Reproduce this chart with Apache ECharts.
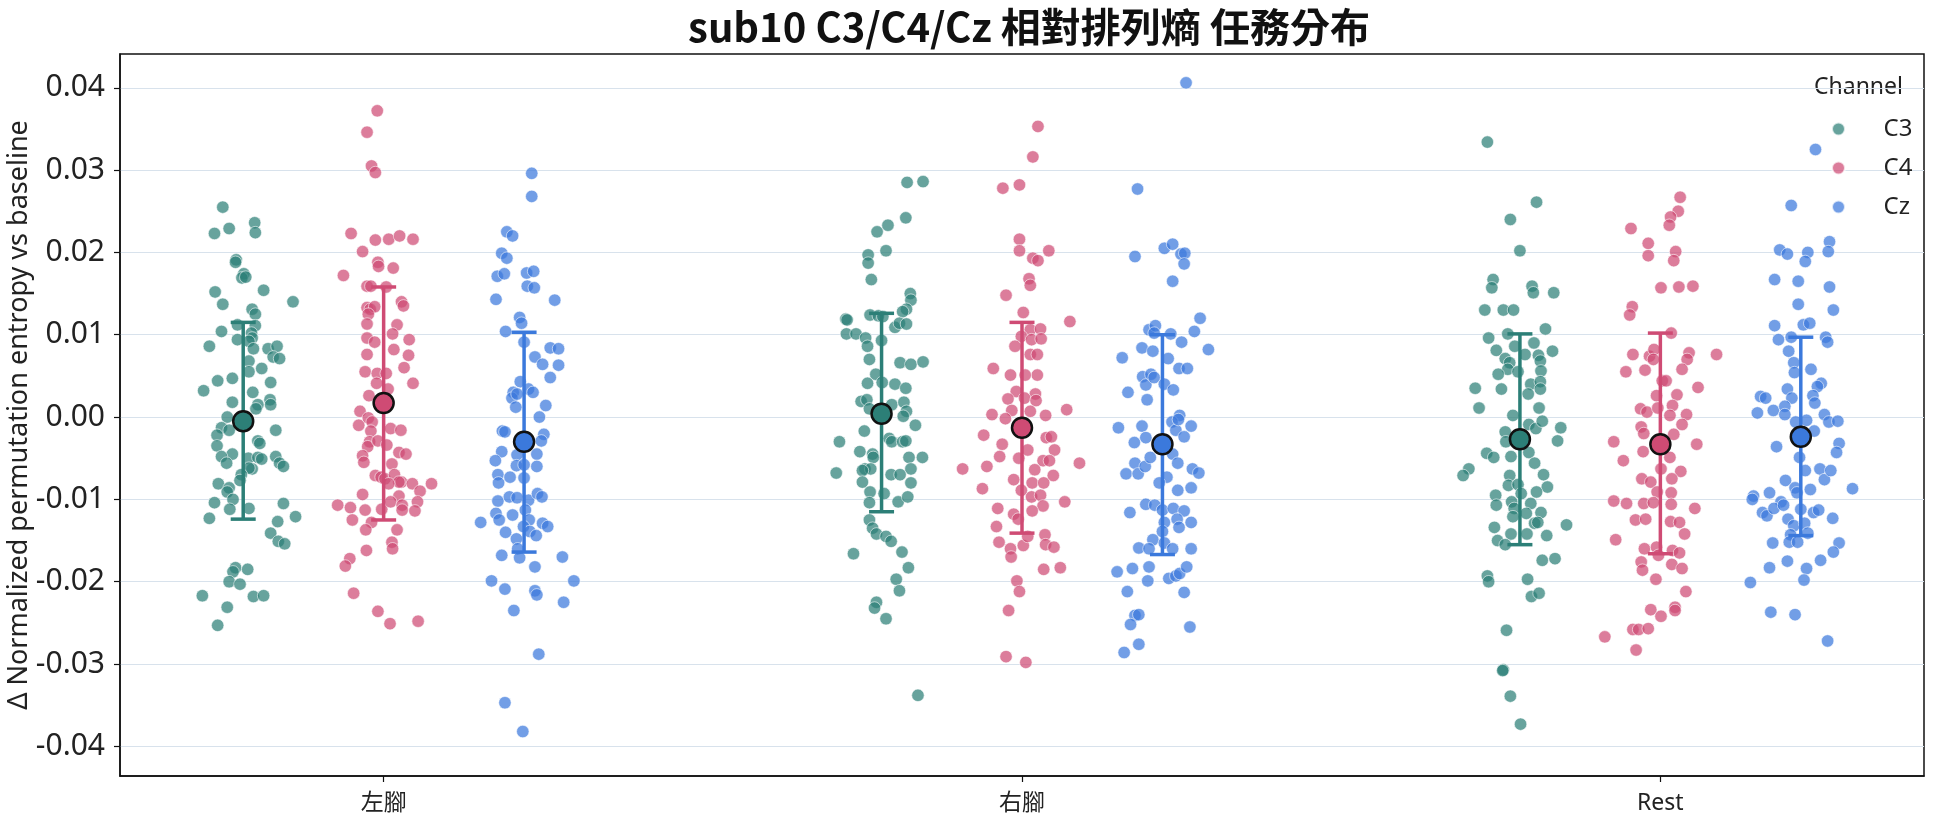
<!DOCTYPE html>
<html>
<head>
<meta charset="utf-8">
<script src="https://cdn.jsdelivr.net/npm/echarts@6/dist/echarts.min.js"></script>
<style>
  html, body { margin: 0; padding: 0; background: #fff; }
  #chart { width: 1944px; height: 827px; }
</style>
</head>
<body>
<div id="chart"></div>
<script>
// categories / channels
const categories = ['左腳', '右腳', 'Rest'];
const channels = ['C3', 'C4', 'Cz'];

// per-trial values, plus the strip jitter (category units)
const c3Left = [0.0255,0.0223,0.0229,0.0236,0.0224,0.0191,0.0188,0.0174,0.0169,0.0170,
  0.0152,0.0154,0.0140,0.0137,0.0131,0.0125,0.0112,0.0111,0.0104,0.0102,
  0.0096,0.0094,0.0092,0.0086,0.0083,0.0083,0.0086,0.0073,0.0071,0.0068,
  0.0055,0.0059,0.0044,0.0047,0.0042,0.0032,0.0030,0.0018,0.0015,0.0010,
  0.0021,0.0015,0.0000,-0.0013,-0.0016,-0.0022,-0.0035,-0.0016,-0.0029,-0.0032,
  -0.0045,-0.0048,-0.0056,-0.0050,-0.0049,-0.0051,-0.0063,-0.0062,-0.0048,-0.0056,
  -0.0060,-0.0070,-0.0077,-0.0081,-0.0086,-0.0091,-0.0100,-0.0104,-0.0112,-0.0111,
  -0.0123,-0.0105,-0.0127,-0.0121,-0.0141,-0.0151,-0.0154,-0.0183,-0.0185,-0.0188,
  -0.0200,-0.0203,-0.0217,-0.0218,-0.0217,-0.0231,-0.0253];
const c3LeftJit = [-0.032,-0.045,-0.022,0.018,0.019,-0.011,-0.012,0.001,-0.002,0.004,
  -0.044,0.032,0.078,-0.032,0.014,0.019,-0.009,0.019,-0.034,0.013,
  0.014,-0.009,0.009,-0.053,0.016,0.039,0.053,0.047,0.057,0.009,
  0.009,0.029,-0.040,-0.017,0.043,-0.062,0.015,-0.017,0.023,0.020,
  0.042,0.043,-0.025,-0.034,-0.022,-0.041,-0.041,0.051,0.023,0.026,
  -0.017,-0.034,-0.026,0.008,0.023,0.029,0.014,0.009,0.051,0.057,
  0.063,-0.003,-0.005,-0.039,-0.022,-0.025,-0.016,-0.045,-0.021,0.009,
  -0.053,0.063,0.054,0.082,0.043,0.055,0.065,-0.012,0.007,-0.016,
  -0.022,-0.005,-0.064,0.016,0.032,-0.025,-0.040];

const c4Left = [0.0372,0.0346,0.0305,0.0297,0.0223,0.0215,0.0216,0.0220,0.0216,0.0201,
  0.0188,0.0183,0.0181,0.0172,0.0159,0.0159,0.0158,0.0140,0.0135,0.0133,
  0.0131,0.0134,0.0125,0.0113,0.0112,0.0101,0.0096,0.0091,0.0094,0.0076,
  0.0082,0.0075,0.0060,0.0055,0.0053,0.0053,0.0041,0.0041,0.0034,0.0026,
  0.0007,-0.0010,-0.0001,-0.0006,-0.0014,-0.0016,-0.0017,-0.0030,-0.0036,-0.0029,
  -0.0034,-0.0047,-0.0055,-0.0043,-0.0045,-0.0057,-0.0071,-0.0073,-0.0075,-0.0070,
  -0.0079,-0.0079,-0.0081,-0.0081,-0.0090,-0.0081,-0.0094,-0.0096,-0.0107,-0.0110,
  -0.0113,-0.0112,-0.0103,-0.0107,-0.0113,-0.0103,-0.0114,-0.0125,-0.0128,-0.0137,
  -0.0137,-0.0152,-0.0160,-0.0162,-0.0172,-0.0181,-0.0214,-0.0236,-0.0251,-0.0248];
const c4LeftJit = [-0.010,-0.026,-0.019,-0.013,-0.051,-0.013,0.008,0.025,0.046,-0.033,
  -0.009,-0.008,0.015,-0.063,-0.026,-0.020,0.004,0.028,0.031,-0.026,
  -0.021,-0.014,-0.024,-0.026,0.021,0.014,-0.026,-0.014,0.040,-0.026,
  0.016,0.039,0.032,-0.029,-0.010,0.004,0.046,-0.011,0.007,-0.023,
  -0.037,-0.039,-0.024,-0.018,0.011,0.027,-0.020,-0.022,-0.025,-0.009,
  0.005,-0.033,-0.031,0.024,0.035,0.013,-0.013,-0.004,0.002,0.017,
  0.028,0.024,0.008,0.045,0.057,0.075,-0.033,0.024,-0.072,-0.052,
  -0.029,-0.003,0.011,0.029,0.029,0.053,0.049,-0.049,-0.019,-0.028,
  0.021,0.013,0.014,-0.027,-0.053,-0.060,-0.047,-0.009,0.010,0.054];

const czLeft = [0.0296,0.0268,0.0225,0.0220,0.0199,0.0193,0.0171,0.0174,0.0175,0.0177,
  0.0159,0.0157,0.0143,0.0142,0.0121,0.0114,0.0104,0.0091,0.0073,0.0084,
  0.0083,0.0064,0.0063,0.0048,0.0043,0.0030,0.0023,0.0028,0.0034,0.0030,
  0.0012,0.0014,0.0000,-0.0017,-0.0018,-0.0021,-0.0029,-0.0042,-0.0053,-0.0046,
  -0.0045,-0.0059,-0.0058,-0.0060,-0.0070,-0.0080,-0.0073,-0.0074,-0.0102,-0.0097,
  -0.0098,-0.0101,-0.0093,-0.0097,-0.0117,-0.0125,-0.0119,-0.0113,-0.0125,-0.0129,
  -0.0133,-0.0128,-0.0140,-0.0133,-0.0139,-0.0144,-0.0148,-0.0160,-0.0171,-0.0168,
  -0.0182,-0.0170,-0.0199,-0.0209,-0.0211,-0.0216,-0.0199,-0.0225,-0.0235,-0.0288,
  -0.0347,-0.0382];
const czLeftJit = [0.012,0.012,-0.027,-0.018,-0.035,-0.027,-0.042,-0.031,0.004,0.015,
  0.005,0.016,-0.044,0.048,-0.007,-0.004,-0.029,0.000,0.017,0.041,
  0.054,0.029,0.054,0.041,-0.006,-0.017,-0.019,-0.011,0.007,0.014,
  -0.013,0.034,0.024,-0.034,-0.030,0.031,0.027,-0.035,-0.045,-0.011,
  0.020,-0.012,0.000,0.020,-0.041,-0.040,-0.022,0.000,-0.041,-0.023,
  -0.011,0.007,0.021,0.028,-0.044,-0.039,-0.018,0.002,0.008,0.029,
  0.037,-0.068,-0.029,-0.001,0.009,0.019,-0.012,-0.010,-0.007,-0.035,
  0.017,0.060,-0.051,-0.030,0.017,0.020,0.078,0.062,-0.016,0.023,
  -0.030,-0.002];

const c3Right = [0.0285,0.0286,0.0242,0.0225,0.0233,0.0197,0.0187,0.0202,0.0167,0.0150,
  0.0142,0.0131,0.0128,0.0119,0.0118,0.0124,0.0123,0.0122,0.0109,0.0114,
  0.0113,0.0101,0.0101,0.0096,0.0086,0.0093,0.0070,0.0066,0.0064,0.0067,
  0.0052,0.0041,0.0042,0.0040,0.0035,0.0019,0.0021,0.0010,0.0015,0.0018,
  0.0007,0.0001,-0.0010,-0.0030,-0.0017,-0.0026,-0.0030,-0.0030,-0.0029,-0.0042,
  -0.0045,-0.0049,-0.0049,-0.0049,-0.0063,-0.0063,-0.0063,-0.0065,-0.0068,-0.0070,
  -0.0070,-0.0080,-0.0079,-0.0091,-0.0093,-0.0104,-0.0103,-0.0097,-0.0125,-0.0135,
  -0.0142,-0.0145,-0.0151,-0.0166,-0.0164,-0.0183,-0.0197,-0.0211,-0.0225,-0.0232,
  -0.0245,-0.0338];
const c3RightJit = [0.040,0.065,0.038,-0.007,0.010,-0.021,-0.021,0.007,-0.016,0.045,
  0.046,0.039,0.033,-0.056,-0.054,-0.018,-0.005,0.002,0.021,0.028,
  0.039,-0.055,-0.040,-0.025,-0.022,0.000,-0.019,0.029,0.046,0.065,
  -0.009,-0.022,0.001,0.021,0.038,-0.032,-0.023,-0.019,0.016,0.035,
  0.039,0.034,0.053,-0.066,-0.027,0.012,0.016,0.033,0.038,-0.034,
  -0.014,-0.013,0.043,0.064,0.046,-0.026,-0.017,-0.030,-0.071,0.015,
  0.029,0.046,-0.030,-0.018,0.004,-0.019,0.026,0.041,-0.019,-0.014,
  -0.008,0.007,0.015,-0.044,0.032,0.042,0.023,0.028,-0.008,-0.011,
  0.007,0.057];

const c4Right = [0.0353,0.0316,0.0278,0.0282,0.0216,0.0202,0.0202,0.0193,0.0190,0.0168,
  0.0160,0.0148,0.0127,0.0116,0.0106,0.0107,0.0098,0.0094,0.0095,0.0086,
  0.0076,0.0076,0.0059,0.0051,0.0051,0.0051,0.0031,0.0028,0.0022,0.0023,
  0.0020,0.0008,0.0003,-0.0002,0.0002,0.0009,0.0007,-0.0022,-0.0033,-0.0048,
  -0.0050,-0.0040,-0.0025,-0.0024,-0.0040,-0.0060,-0.0063,-0.0053,-0.0053,-0.0064,
  -0.0071,-0.0056,-0.0087,-0.0076,-0.0080,-0.0080,-0.0089,-0.0097,-0.0095,-0.0108,
  -0.0103,-0.0111,-0.0118,-0.0124,-0.0114,-0.0133,-0.0152,-0.0160,-0.0170,-0.0156,
  -0.0145,-0.0143,-0.0155,-0.0158,-0.0185,-0.0183,-0.0199,-0.0212,-0.0235,-0.0291,
  -0.0298];
const c4RightJit = [0.025,0.017,-0.030,-0.004,-0.004,-0.004,0.042,0.017,0.025,0.011,
  0.013,-0.025,0.002,0.075,0.013,0.029,-0.001,0.015,0.030,-0.011,
  0.013,0.024,-0.045,-0.018,0.024,0.005,-0.009,0.021,-0.022,0.004,
  0.022,-0.016,-0.047,-0.026,0.037,0.070,0.013,-0.060,-0.031,-0.035,
  -0.005,0.009,0.038,0.046,0.051,-0.055,-0.093,0.033,0.043,0.020,
  0.049,0.090,-0.062,-0.013,0.016,0.034,-0.001,0.015,0.029,0.033,
  0.067,-0.038,-0.013,-0.006,0.016,-0.040,-0.036,-0.018,-0.017,0.002,
  0.009,0.036,0.037,0.050,0.034,0.060,-0.008,-0.004,-0.021,-0.025,
  0.006];

const czRight = [0.0406,0.0277,0.0195,0.0205,0.0210,0.0198,0.0199,0.0186,0.0165,0.0120,
  0.0104,0.0106,0.0111,0.0102,0.0101,0.0091,0.0082,0.0084,0.0080,0.0072,
  0.0071,0.0059,0.0059,0.0049,0.0039,0.0052,0.0048,0.0040,0.0033,0.0030,
  0.0021,0.0002,-0.0013,-0.0011,-0.0025,-0.0031,-0.0006,-0.0016,-0.0024,-0.0011,
  -0.0003,-0.0056,-0.0069,-0.0069,-0.0060,-0.0049,-0.0045,-0.0056,-0.0063,-0.0068,
  -0.0073,-0.0080,-0.0089,-0.0086,-0.0116,-0.0106,-0.0107,-0.0113,-0.0111,-0.0114,
  -0.0124,-0.0134,-0.0128,-0.0128,-0.0139,-0.0149,-0.0153,-0.0159,-0.0160,-0.0160,
  -0.0160,-0.0188,-0.0184,-0.0182,-0.0199,-0.0196,-0.0193,-0.0190,-0.0182,-0.0212,
  -0.0213,-0.0241,-0.0240,-0.0252,-0.0255,-0.0276,-0.0286];
const czRightJit = [0.037,-0.039,-0.043,0.003,0.016,0.029,0.035,0.034,0.016,0.059,
  0.050,-0.021,-0.011,-0.013,0.013,0.030,0.072,-0.032,-0.015,-0.063,
  0.009,0.026,0.039,-0.031,-0.026,-0.018,-0.013,0.003,0.017,-0.054,
  -0.024,0.027,-0.069,-0.032,-0.026,-0.044,0.015,0.021,0.034,0.045,
  0.025,-0.043,-0.057,-0.038,-0.027,-0.019,0.016,0.024,0.047,0.057,
  0.007,-0.005,0.024,0.045,-0.051,-0.026,-0.012,0.000,0.017,0.034,
  0.023,0.026,0.045,0.003,0.000,-0.015,0.003,-0.037,-0.021,0.016,
  0.045,-0.071,-0.047,-0.021,-0.023,0.010,0.021,0.027,0.038,-0.055,
  0.034,-0.043,-0.037,-0.050,0.043,-0.037,-0.060];

const c3Rest = [0.0334,0.0261,0.0240,0.0202,0.0167,0.0157,0.0159,0.0151,0.0151,0.0130,
  0.0130,0.0130,0.0107,0.0096,0.0101,0.0081,0.0086,0.0090,0.0080,0.0071,
  0.0066,0.0058,0.0055,0.0076,0.0075,0.0068,0.0056,0.0052,0.0035,0.0034,
  0.0040,0.0043,0.0028,0.0034,0.0011,0.0002,0.0011,-0.0009,-0.0014,-0.0005,
  -0.0013,-0.0029,-0.0018,-0.0030,-0.0044,-0.0049,-0.0048,-0.0043,-0.0056,-0.0063,
  -0.0071,-0.0071,-0.0083,-0.0082,-0.0070,-0.0085,-0.0095,-0.0107,-0.0103,-0.0093,
  -0.0091,-0.0111,-0.0105,-0.0117,-0.0116,-0.0121,-0.0129,-0.0128,-0.0131,-0.0134,
  -0.0142,-0.0142,-0.0144,-0.0150,-0.0155,-0.0174,-0.0172,-0.0193,-0.0200,-0.0197,
  -0.0218,-0.0214,-0.0259,-0.0307,-0.0308,-0.0339,-0.0373];
const c3RestJit = [-0.051,0.026,-0.015,0.000,-0.042,-0.044,0.019,0.021,0.053,-0.055,
  -0.026,-0.010,0.040,-0.049,-0.019,-0.037,-0.008,0.022,0.051,-0.023,
  -0.016,-0.019,-0.003,0.008,0.029,0.032,0.033,-0.034,-0.070,-0.029,
  0.017,0.032,0.013,0.032,-0.064,-0.011,0.030,0.014,0.025,0.035,
  0.064,0.059,-0.023,-0.022,-0.052,-0.041,-0.014,0.014,0.023,-0.080,
  -0.089,-0.016,-0.018,-0.003,0.037,0.043,-0.038,-0.037,-0.013,0.002,
  0.026,-0.009,0.017,0.010,0.033,-0.011,0.023,0.028,0.073,-0.040,
  -0.014,0.011,0.042,-0.035,-0.023,0.035,0.055,-0.051,-0.049,0.012,
  0.018,0.030,-0.021,-0.026,-0.027,-0.015,0.001];

const c4Rest = [0.0267,0.0250,0.0243,0.0233,0.0229,0.0211,0.0196,0.0201,0.0190,0.0157,
  0.0158,0.0159,0.0134,0.0124,0.0102,0.0076,0.0074,0.0082,0.0070,0.0078,
  0.0070,0.0058,0.0076,0.0055,0.0057,0.0044,0.0044,0.0036,0.0026,0.0027,
  0.0014,0.0010,0.0006,0.0011,0.0003,0.0002,-0.0012,-0.0020,-0.0021,-0.0009,
  -0.0030,-0.0033,-0.0042,-0.0053,-0.0049,-0.0063,-0.0066,-0.0075,-0.0079,-0.0075,
  -0.0092,-0.0091,-0.0102,-0.0105,-0.0105,-0.0104,-0.0106,-0.0111,-0.0125,-0.0124,
  -0.0127,-0.0128,-0.0142,-0.0149,-0.0160,-0.0158,-0.0168,-0.0162,-0.0165,-0.0176,
  -0.0186,-0.0179,-0.0184,-0.0197,-0.0212,-0.0234,-0.0242,-0.0231,-0.0235,-0.0258,
  -0.0258,-0.0257,-0.0267,-0.0283];
const c4RestJit = [0.031,0.028,0.016,0.014,-0.046,-0.019,-0.019,0.024,0.021,0.001,
  0.029,0.051,-0.044,-0.048,0.017,-0.043,-0.017,-0.010,-0.011,0.045,
  0.042,0.034,0.088,-0.054,-0.024,0.003,0.009,0.059,-0.006,0.026,
  0.019,-0.031,-0.021,-0.004,0.041,0.015,-0.030,-0.026,0.021,0.034,
  -0.073,0.057,-0.027,-0.058,0.015,0.001,0.032,-0.029,-0.015,0.018,
  0.017,-0.005,-0.073,-0.053,-0.026,-0.011,0.017,0.054,-0.039,-0.023,
  0.016,0.030,0.038,-0.070,-0.025,-0.006,-0.003,0.019,0.030,-0.030,
  -0.028,0.018,0.034,-0.007,0.040,-0.015,0.001,0.023,0.023,-0.043,
  -0.034,-0.019,-0.087,-0.038];

const czRest = [0.0325,0.0257,0.0213,0.0201,0.0203,0.0198,0.0200,0.0189,0.0167,0.0165,
  0.0158,0.0137,0.0130,0.0111,0.0112,0.0114,0.0094,0.0097,0.0097,0.0091,
  0.0080,0.0066,0.0054,0.0058,0.0041,0.0037,0.0034,0.0023,0.0026,0.0017,
  0.0025,0.0023,0.0008,0.0005,0.0013,0.0003,0.0003,-0.0006,-0.0005,-0.0006,
  -0.0004,-0.0017,-0.0036,-0.0032,-0.0043,-0.0049,-0.0065,-0.0063,-0.0076,-0.0065,
  -0.0077,-0.0086,-0.0092,-0.0088,-0.0087,-0.0096,-0.0100,-0.0092,-0.0103,-0.0116,
  -0.0120,-0.0111,-0.0107,-0.0112,-0.0116,-0.0113,-0.0123,-0.0124,-0.0132,-0.0129,
  -0.0141,-0.0143,-0.0152,-0.0152,-0.0153,-0.0153,-0.0164,-0.0174,-0.0175,-0.0183,
  -0.0184,-0.0198,-0.0201,-0.0237,-0.0240,-0.0272];
const czRestJit = [0.023,-0.015,0.045,0.043,-0.033,-0.021,0.011,0.007,-0.041,-0.004,
  0.045,-0.004,0.051,-0.041,0.004,0.014,-0.035,-0.015,0.039,0.042,
  -0.019,-0.011,-0.010,0.016,0.032,0.026,-0.021,-0.014,0.019,0.022,
  -0.063,-0.055,-0.043,-0.068,-0.025,-0.025,0.037,0.044,0.058,-0.008,
  0.009,0.021,-0.038,0.060,0.056,-0.002,0.007,0.030,0.037,0.047,
  -0.024,-0.009,-0.006,0.015,0.081,-0.074,-0.076,-0.049,-0.031,-0.060,
  -0.053,-0.042,-0.027,0.000,0.020,0.028,0.050,-0.020,-0.011,0.006,
  0.011,-0.016,-0.018,-0.005,-0.044,0.060,0.051,0.031,-0.021,-0.049,
  0.009,0.005,-0.079,-0.047,-0.009,0.042];

// mean and error-bar ends per channel, in category order
const meanC3 = [-0.0005, 0.0004, -0.0027];
const meanC4 = [0.0017, -0.0013, -0.0033];
const meanCz = [-0.0030, -0.0033, -0.0024];
const lowC3 = [-0.0124, -0.0115, -0.0155];
const highC3 = [0.0115, 0.0126, 0.0101];
const lowC4 = [-0.0125, -0.0141, -0.0166];
const highC4 = [0.0158, 0.0115, 0.0102];
const lowCz = [-0.0164, -0.0167, -0.0144];
const highCz = [0.0103, 0.0100, 0.0097];

const yTicks = [-0.04, -0.03, -0.02, -0.01, 0.00, 0.01, 0.02, 0.03, 0.04];

const colors = ['#2c7f77', '#cf4b74', '#3b79dc'];
const dodge = [-0.22, 0, 0.22];

const pointSets = [
  [[c3Left, c3LeftJit], [c3Right, c3RightJit], [c3Rest, c3RestJit]],
  [[c4Left, c4LeftJit], [c4Right, c4RightJit], [c4Rest, c4RestJit]],
  [[czLeft, czLeftJit], [czRight, czRightJit], [czRest, czRestJit]]
];
const means = [meanC3, meanC4, meanCz];
const lows = [lowC3, lowC4, lowCz];
const highs = [highC3, highC4, highCz];

const font = '"Noto Sans", "Noto Sans CJK TC", sans-serif';

function stripData(ch) {
  const out = [];
  pointSets[ch].forEach(([vals, jit], ci) => {
    vals.forEach((v, i) => out.push([ci + dodge[ch] + jit[i], v]));
  });
  return out;
}

const chart = echarts.init(document.getElementById('chart'));

const series = [];
channels.forEach((name, ch) => {
  series.push({
    name: name,
    type: 'scatter',
    symbolSize: 12.5,
    z: 2,
    itemStyle: { color: colors[ch], opacity: 0.72, borderColor: '#fff', borderWidth: 0.8 },
    emphasis: { disabled: true },
    data: stripData(ch)
  });
});
channels.forEach((name, ch) => {
  series.push({
    name: name + ' sd',
    type: 'custom',
    z: 3,
    silent: true,
    data: [0, 1, 2].map(ci => [ci + dodge[ch], lows[ch][ci], highs[ch][ci]]),
    encode: { x: 0, y: [1, 2] },
    renderItem: (params, api) => {
      const x = api.value(0);
      const top = api.coord([x, api.value(2)]);
      const bot = api.coord([x, api.value(1)]);
      const cap = 12.5;
      const st = { stroke: colors[ch], lineWidth: 3.5 };
      return {
        type: 'group',
        children: [
          { type: 'line', shape: { x1: top[0], y1: top[1], x2: bot[0], y2: bot[1] }, style: st },
          { type: 'line', shape: { x1: top[0] - cap, y1: top[1], x2: top[0] + cap, y2: top[1] }, style: st },
          { type: 'line', shape: { x1: bot[0] - cap, y1: bot[1], x2: bot[0] + cap, y2: bot[1] }, style: st }
        ]
      };
    }
  });
});
channels.forEach((name, ch) => {
  series.push({
    name: name + ' mean',
    type: 'scatter',
    symbolSize: 20,
    z: 4,
    silent: true,
    itemStyle: { color: colors[ch], opacity: 1, borderColor: '#111', borderWidth: 2.5 },
    data: means[ch].map((m, ci) => [ci + dodge[ch], m])
  });
});

chart.setOption({
  backgroundColor: '#fff',
  animation: false,
  textStyle: { fontFamily: font },
  graphic: [
    {
      type: 'text', x: 1029, y: 27,
      style: { text: 'sub10 C3/C4/Cz 相對排列熵 任務分布', font: 'bold 40px "Noto Sans CJK TC", sans-serif',
        fill: '#111', align: 'center', verticalAlign: 'middle' }
    },
    {
      type: 'text', x: 1814, y: 87,
      style: { text: 'Channel', font: '23px ' + font, fill: '#222', align: 'left', verticalAlign: 'middle' }
    }
  ],
  legend: {
    data: channels,
    orient: 'vertical',
    left: 1826,
    top: 112,
    itemWidth: 80,
    itemHeight: 13,
    itemGap: 15,
    icon: 'circle',
    selectedMode: false,
    textStyle: { fontSize: 24, color: '#222', fontFamily: font }
  },
  grid: {
    left: 120, right: 20, top: 54, bottom: 51,
    outerBoundsMode: 'none',
    containLabel: false,
    show: true, borderColor: '#111', borderWidth: 1.5, backgroundColor: 'transparent'
  },
  xAxis: {
    type: 'value',
    min: -0.413,
    max: 2.413,
    axisLine: { show: true, onZero: false, lineStyle: { color: '#111', width: 1.5 } },
    axisTick: { show: true, customValues: [0, 1, 2], length: 6, lineStyle: { color: '#111', width: 1.2 } },
    axisLabel: {
      customValues: [0, 1, 2],
      formatter: v => categories[Math.round(v)],
      fontSize: 23, color: '#222', margin: 16, fontFamily: font
    },
    splitLine: { show: false }
  },
  yAxis: {
    type: 'value',
    min: -0.0436,
    max: 0.0441,
    name: 'Δ Normalized permutation entropy vs baseline',
    nameLocation: 'middle',
    nameGap: 87,
    nameMoveOverlap: false,
    nameTextStyle: { fontSize: 27, color: '#222', fontFamily: font },
    axisLine: { show: true, onZero: false, lineStyle: { color: '#111', width: 1.5 } },
    axisTick: { show: true, customValues: yTicks, length: 6, lineStyle: { color: '#111', width: 1.2 } },
    axisLabel: {
      customValues: yTicks,
      formatter: v => v.toFixed(2),
      fontSize: 30, color: '#222', margin: 15, fontFamily: font
    },
    splitLine: { show: true, lineStyle: { color: '#d8e2ec', width: 1.2 } }
  },
  series: series
});
</script>
</body>
</html>
